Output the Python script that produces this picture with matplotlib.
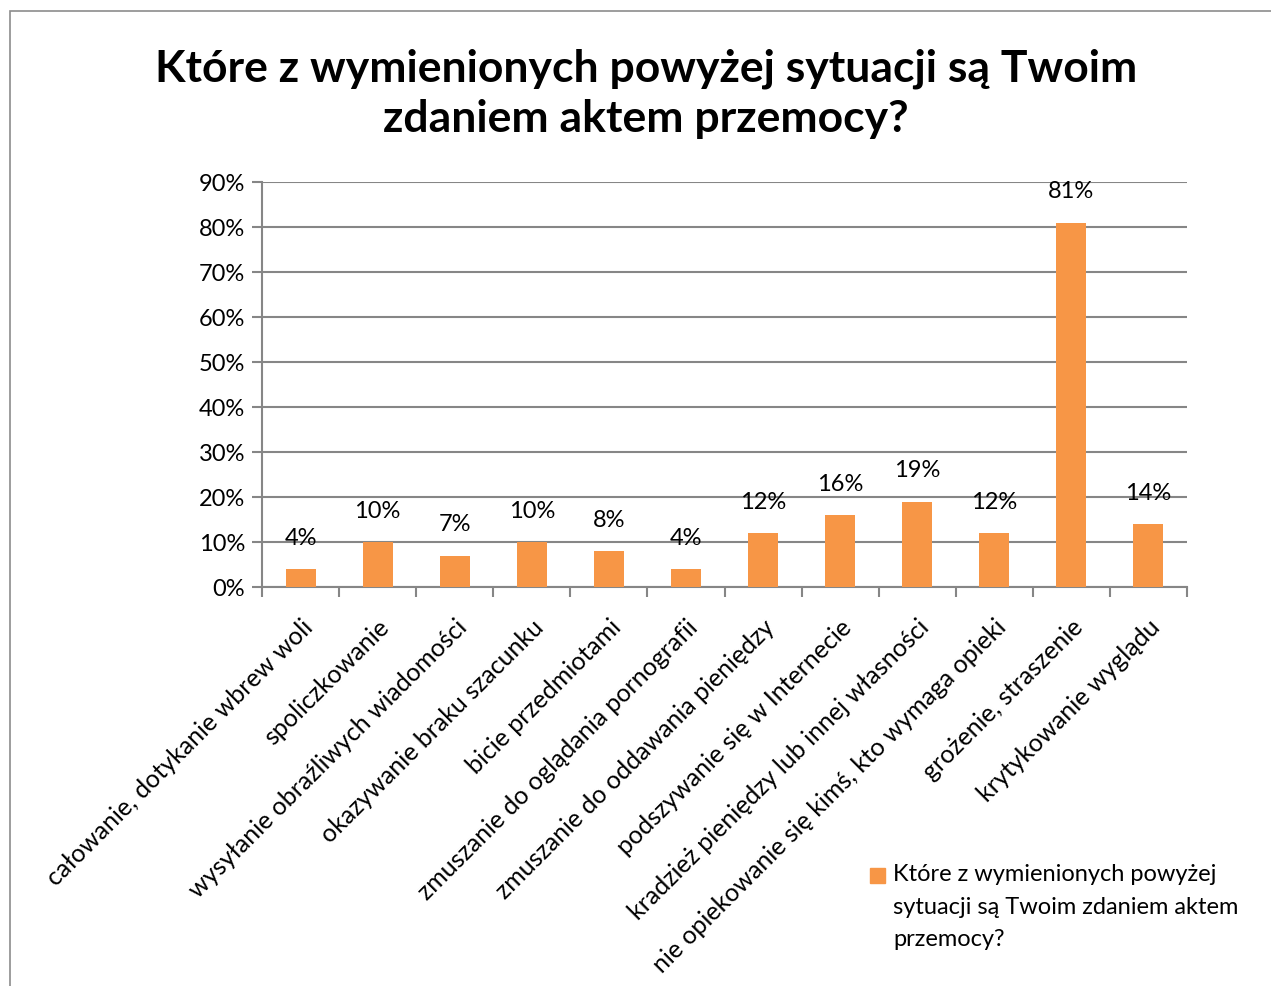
import numpy as np
import matplotlib.pyplot as plt
from matplotlib.patches import Rectangle

plt.rcParams['font.family'] = ['Lato', 'DejaVu Sans']

categories = [
    "całowanie, dotykanie wbrew woli",
    "spoliczkowanie",
    "wysyłanie obraźliwych wiadomości",
    "okazywanie braku szacunku",
    "bicie przedmiotami",
    "zmuszanie do oglądania pornografii",
    "zmuszanie do oddawania pieniędzy",
    "podszywanie się w Internecie",
    "kradzież pieniędzy lub innej własności",
    "nie opiekowanie się kimś, kto wymaga opieki",
    "grożenie, straszenie",
    "krytykowanie wyglądu",
]
values = [4, 10, 7, 10, 8, 4, 12, 16, 19, 12, 81, 14]
yticks = [0, 10, 20, 30, 40, 50, 60, 70, 80, 90]

title = "Które z wymienionych powyżej sytuacji są Twoim\nzdaniem aktem przemocy?"
series_name = "Które z wymienionych powyżej\nsytuacji są Twoim zdaniem aktem\nprzemocy?"

bar_color = "#F79646"
grid_color = "#868686"
W, H = 1271, 987

fig = plt.figure(figsize=(12.71, 9.87), dpi=100)
fig.patches.append(Rectangle((10 / W, -0.01), 1.0, 1 - 12 / H + 0.01,
                             transform=fig.transFigure, fill=False,
                             edgecolor="#8c8c8c", linewidth=1.2))

ax = fig.add_axes([262 / W, 1 - 588 / H, 925 / W, 405 / H])
x = np.arange(len(categories))
ax.bar(x, values, width=0.39, color=bar_color, zorder=3)

# data labels above each bar
for xi, v in zip(x, values):
    ax.annotate(f"{v}%", (xi, v), xytext=(0, 23), textcoords="offset points",
                ha="center", va="center", fontsize=17, color="black")

ax.set_xlim(-0.5, len(categories) - 0.5)
ax.set_ylim(0, 90)
ax.set_yticks(yticks)
ax.set_yticklabels([f"{t}%" for t in yticks], fontsize=17)
ax.yaxis.grid(True, color=grid_color, linewidth=1.5, zorder=0)
ax.tick_params(axis="y", length=7, width=1.5, color=grid_color, pad=5)

ax.set_xticks(x)
ax.set_xticklabels(categories, rotation=45, ha="right", rotation_mode="anchor",
                   fontsize=18)
ax.tick_params(axis="x", which="major", length=0, pad=20)
ax.set_xticks(np.arange(-0.5, len(categories)), minor=True)
ax.tick_params(axis="x", which="minor", length=7, width=1.5, color=grid_color)

for side in ["top", "right"]:
    ax.spines[side].set_visible(False)
for side in ["left", "bottom"]:
    ax.spines[side].set_color(grid_color)
    ax.spines[side].set_linewidth(1.5)

fig.text(0.508, 1 - 94 / H, title, ha="center", va="center", fontsize=32,
         fontweight="bold", linespacing=1.3)

# legend: square next to first line of the wrapped series name
fig.patches.append(Rectangle((870 / W, 1 - 884 / H), 15 / W, 15 / H,
                             transform=fig.transFigure, color=bar_color))
fig.text(893 / W, 1 - 864 / H, series_name, ha="left", va="top",
         fontsize=17, linespacing=1.68)

fig.savefig("out.png", dpi=100)
